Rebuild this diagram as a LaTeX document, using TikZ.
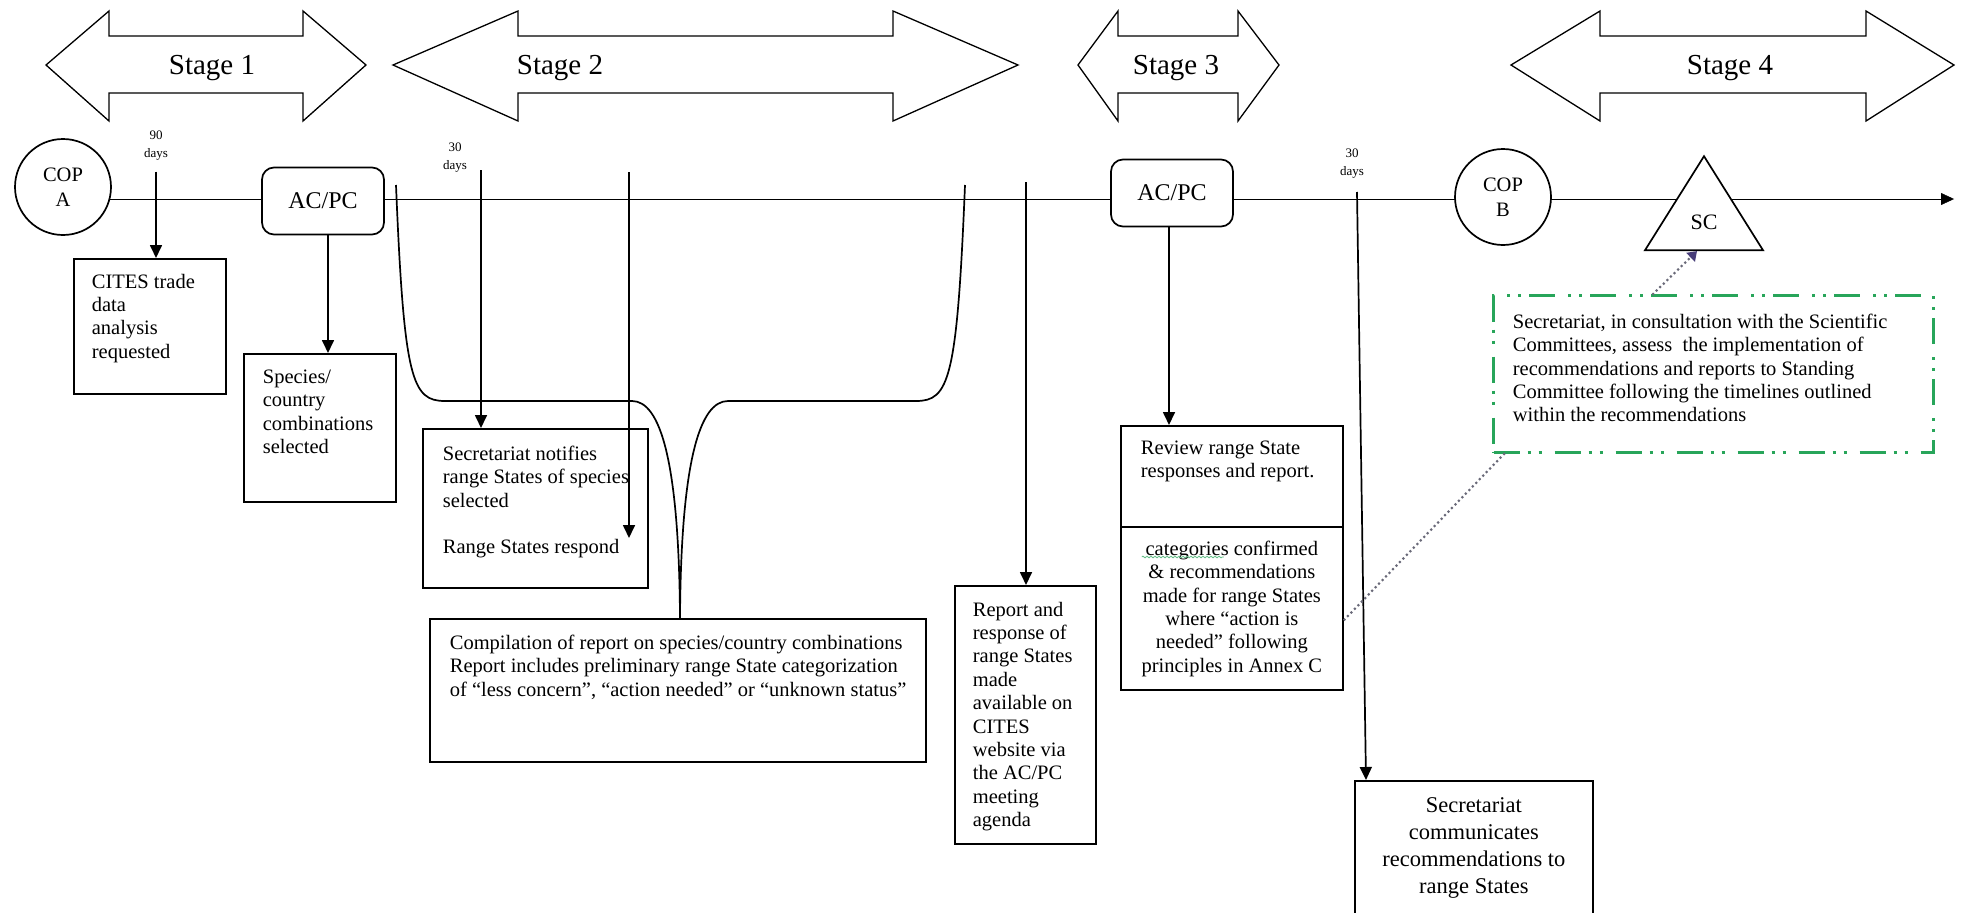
\documentclass[tikz,border=0pt]{standalone}
\usepackage{fontspec}
\setmainfont{Liberation Serif}
\usetikzlibrary{arrows.meta,positioning,shapes.geometric,backgrounds,decorations.pathmorphing}

\definecolor{dashgreen}{RGB}{40,165,90}
\definecolor{dotgray}{RGB}{105,105,120}
\definecolor{tipblue}{RGB}{70,60,120}

\begin{document}
\begin{tikzpicture}[x=1pt, y=-1pt, line width=1.7pt,
    box/.style={draw, rectangle, anchor=north west, inner sep=0pt},
    txt/.style={anchor=north west, inner sep=0pt, align=left, font=\fontsize{20.5}{23.4}\selectfont},
    meet/.style={draw, fill=white, rounded corners=12pt, minimum width=122pt, minimum height=67pt, font=\fontsize{24}{28}\selectfont},
    cop/.style={draw, fill=white, circle, minimum size=96pt, inner sep=0pt, align=center, font=\fontsize{20.5}{24.5}\selectfont},
    scnode/.style={draw, fill=white, isosceles triangle, isosceles triangle stretches, shape border rotate=90, minimum width=118pt, minimum height=94pt, inner sep=0pt, anchor=apex, font=\fontsize{22}{26}\selectfont},
    days/.style={align=center, inner sep=0pt, font=\fontsize{13}{18}\selectfont},
    arr/.style={-{Triangle[length=13pt,width=12pt]}},
    stagearrow/.style={draw, line width=1.3pt},
    stagetext/.style={anchor=base, font=\fontsize{29}{34}\selectfont},
    greenbox/.style={draw=dashgreen, line width=3pt, dash pattern=on 26pt off 8pt on 3pt off 8pt on 3pt off 13pt},
    dotline/.style={draw=dotgray, line width=3pt, line cap=round, dash pattern=on 0pt off 5pt},
    spell/.style={draw=dashgreen!70, line width=0.8pt, decorate, decoration={snake, amplitude=0.9pt, segment length=4pt}}
  ]
  \useasboundingbox (0,0) rectangle (1966,913);

  % stages
  \foreach \lt/\lb/\rb/\rt/\tx/\n in {46/109/303/366/212/1, 393/518/893/1018/560/2, 1078/1118/1238/1279/1176/3, 1511/1600/1866/1954/1730/4} {
    \draw[stagearrow] (\lt,65) -- (\lb,11) -- (\lb,36) -- (\rb,36) -- (\rb,11) -- (\rt,65) -- (\rb,121) -- (\rb,93) -- (\lb,93) -- (\lb,121) -- cycle;
    \node[stagetext] (stage\n) at (\tx,74) {Stage \n};
  }

  % meetings on the time line
  \node[cop] (copA) at (63,187) {COP\\A};
  \node[meet] (acpc1) at (323,201) {AC/PC};
  \node[meet] (acpc3) at (1172,193) {AC/PC};
  \node[cop] (copB) at (1503,197) {COP\\B};
  \node[scnode] (sc) at (1704,154) {SC};
  \coordinate (tend) at (1954,199);

  \begin{scope}[on background layer]
    \draw[arr] (copA |- tend) -- (tend);
  \end{scope}

  % stage 1
  \node[days] (d90) at (156,146) {90\\days};
  \node[box, minimum width=152pt, minimum height=135pt] (cites) at (73,258) {};
  \node[txt] (cites-t) at ([shift={(18,15)}]cites.north west) {CITES trade\\data\\analysis\\requested};
  \draw[arr] ([yshift=-10pt]d90.south) -- (d90.south |- cites.north);

  \node[box, minimum width=152pt, minimum height=148pt] (species) at (243,353) {};
  \node[txt] (species-t) at ([shift={(19,16)}]species.north west) {Species/\\country\\combinations\\selected};
  \draw[arr] ([xshift=5pt]acpc1.south) -- ([xshift=5pt]acpc1.south |- species.north);

  % stage 2
  \node[days] (d30a) at (455,158) {30\\days};
  \coordinate (n30) at (481,170);
  \node[box, minimum width=225pt, minimum height=159pt] (notify) at (422,428) {};
  \node[txt] (notify-t) at ([shift={(20,17)}]notify.north west) {Secretariat notifies\\range States of species\\selected\\[23.4pt]Range States respond};
  \draw[arr] (n30) -- (n30 |- notify.north);

  \coordinate (resp) at (629,172);
  \coordinate (respend) at (629,538);
  \draw[arr] (resp) -- (respend);

  \draw (396,185) .. controls (404,380) and (412,401) .. (445,401) -- (632,401)
    .. controls (660,401) and (679,460) .. (680,618)
    .. controls (681,460) and (700,401) .. (728,401) -- (916,401)
    .. controls (949,401) and (957,380) .. (965,185);

  \node[box, minimum width=496pt, minimum height=143pt] (comp) at (429,618) {};
  \node[txt] (comp-t) at ([shift={(20,16)}]comp.north west) {Compilation of report on species/country combinations\\Report includes preliminary range State categorization\\of “less concern”, “action needed” or “unknown status”};

  \coordinate (rep) at (1026,182);
  \node[box, minimum width=141pt, minimum height=258pt] (report) at (954,585) {};
  \node[txt] (report-t) at ([shift={(18,16)}]report.north west) {Report and\\response of\\range States\\made\\available on\\CITES\\website via\\the AC/PC\\meeting\\agenda};
  \draw[arr] (rep) -- (rep |- report.north);

  % stage 3
  \node[box, minimum width=222pt, minimum height=101pt] (reviewa) at (1120,425) {};
  \node[box, minimum width=222pt, minimum height=163pt] (reviewb) at (1120,526) {};
  \node[txt] (reviewa-t) at ([shift={(20,15)}]reviewa.north west) {Review range State\\responses and report.};
  \node[txt, anchor=north, align=center] (reviewb-t) at ([yshift=-14pt]reviewb.north) {categories confirmed\\\& recommendations\\made for range States\\where “action is\\needed” following\\principles in Annex C};
  \draw[spell] ([shift={(1,17)}]reviewb-t.north west) -- ++(82,0);
  \draw[arr] ([xshift=-3pt]acpc3.south) -- ([xshift=-3pt]acpc3.south |- reviewa.north);

  \node[days] (d30b) at (1352,164) {30\\days};
  \coordinate (c30) at (1357,192);
  \node[box, minimum width=238pt, minimum height=150pt] (commun) at (1354,780) {};
  \node[txt, anchor=north, align=center, font=\fontsize{22.5}{27}\selectfont] (commun-t) at ([yshift=-17pt]commun.north) {Secretariat\\communicates\\recommendations to\\range States};
  \draw[arr] (c30) -- ([xshift=12pt]commun.north west);

  % stage 4
  \node[box, greenbox, minimum width=440pt, minimum height=157pt] (green) at (1492,294) {};
  \node[txt] (green-t) at ([shift={(20,19)}]green.north west) {Secretariat, in consultation with the Scientific\\Committees, assess\ \ the implementation of\\recommendations and reports to Standing\\Committee following the timelines outlined\\within the recommendations};
  \draw[dotline, -{Triangle[length=9pt,width=12pt,color=tipblue]}] ([xshift=161pt]green.north west) -- ([xshift=-7pt]sc.lower side);
  \draw[dotline] ([xshift=12pt]green.south west) -- ([yshift=-12pt]reviewb.east);
\end{tikzpicture}
\end{document}
